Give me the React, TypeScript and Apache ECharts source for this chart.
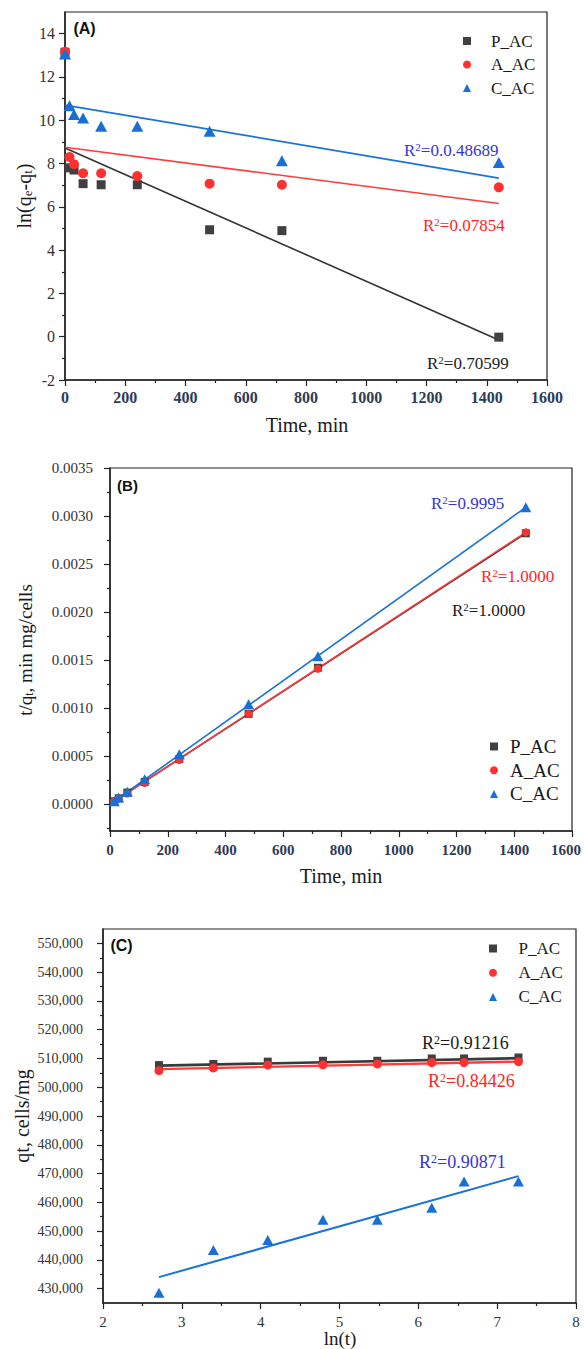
import React, { useEffect, useRef } from "react";
import * as echarts from "echarts";

// ---------- shared ----------
const seriesNames = ["P_AC", "A_AC", "C_AC"];

// ---------- Panel A : ln(qe-qt) vs time ----------
const timeA = [0, 15, 30, 60, 120, 240, 480, 720, 1440];
const lnP = [13.14, 7.8, 7.7, 7.07, 7.02, 7.02, 4.94, 4.9, -0.02];
const lnA = [13.16, 8.3, 7.97, 7.55, 7.55, 7.42, 7.07, 7.02, 6.9];
const lnC = [13.06, 10.67, 10.26, 10.1, 9.72, 9.72, 9.49, 8.13, 8.05];
const fitTimeA = [0, 1440];
const fitLnP = [8.72, -0.15];
const fitLnA = [8.75, 6.15];
const fitLnC = [10.7, 7.33];
const r2A = ["0.70599", "0.07854", "0.0.48689"];
const xMajorA = [0, 200, 400, 600, 800, 1000, 1200, 1400, 1600];
const xMinorA = [100, 300, 500, 700, 900, 1100, 1300, 1500];
const yMajorA = [-2, 0, 2, 4, 6, 8, 10, 12, 14];
const yMinorA = [-1, 1, 3, 5, 7, 9, 11, 13];

// ---------- Panel B : t/qt vs time ----------
const timeB = [15, 30, 60, 120, 240, 480, 720, 1440];
const tqP = [0.00003, 0.00006, 0.00012, 0.00023, 0.00047, 0.00094, 0.00142, 0.00282];
const tqA = [0.00003, 0.00006, 0.00011, 0.00022, 0.00046, 0.00094, 0.00141, 0.00283];
const tqC = [0.00003, 0.00007, 0.00013, 0.00026, 0.00052, 0.00104, 0.00154, 0.00309];
const fitTimeB = [15, 1440];
const fitTqP = [0.00003, 0.00282];
const fitTqA = [0.00003, 0.00283];
const fitTqC = [0.00003, 0.00309];
const r2B = ["1.0000", "1.0000", "0.9995"];
const xMajorB = [0, 200, 400, 600, 800, 1000, 1200, 1400, 1600];
const xMinorB = [100, 300, 500, 700, 900, 1100, 1300, 1500];
const yMajorB = [0, 0.0005, 0.001, 0.0015, 0.002, 0.0025, 0.003, 0.0035];
const yMinorB = [-0.00025, 0.00025, 0.00075, 0.00125, 0.00175, 0.00225, 0.00275, 0.00325];

// ---------- Panel C : qt vs ln(t) ----------
const lnT = [2.71, 3.4, 4.09, 4.79, 5.48, 6.17, 6.58, 7.27];
const qtP = [507700, 508100, 508900, 509200, 509200, 510000, 510000, 510350];
const qtA = [505750, 506700, 507700, 507800, 508100, 508600, 508600, 508900];
const qtC = [428600, 443400, 446900, 453900, 453900, 458100, 467200, 467200];
const fitLnT = [2.71, 7.27];
const fitQtP = [507500, 510100];
const fitQtA = [506300, 508900];
const fitQtC = [434000, 469100];
const r2C = ["0.91216", "0.84426", "0.90871"];
const xMajorC = [2, 3, 4, 5, 6, 7, 8];
const xMinorC = [2.5, 3.5, 4.5, 5.5, 6.5, 7.5];
const yMajorC = [430000, 440000, 450000, 460000, 470000, 480000, 490000, 500000, 510000, 520000, 530000, 540000, 550000];
const yMinorC = [435000, 445000, 455000, 465000, 475000, 485000, 495000, 505000, 515000, 525000, 535000, 545000];

// ---------- styling ----------
const SERIF = "'Liberation Serif', 'Times New Roman', serif";
const SANS = "'Liberation Sans', Arial, sans-serif";
const AX = "#222222";
const COL = { P: "#404040", A: "#ff3030", C: "#1a6fd6" };
const LINE = { P: "#333333", A: "#ff3b3b", C: "#1a73d9" };
const TXT = { P: "#1a1a1a", A: "#ff2424", C: "#3434d8" };

const zip = (xs: number[], ys: number[]) => xs.map((x, i) => [x, ys[i]]);

function mainAxis(gridIndex: number, pos: string, min: number, max: number, majors: number[], label: any) {
  return {
    type: "value",
    gridIndex,
    position: pos,
    min,
    max,
    axisLine: { show: true, onZero: false, lineStyle: { color: AX, width: 1.5 } },
    axisTick: { show: true, inside: false, length: 6, customValues: majors, lineStyle: { color: AX, width: 1.2 } },
    axisLabel: { show: true, customValues: majors, ...label },
    splitLine: { show: false },
    minorTick: { show: false },
    minorSplitLine: { show: false },
  };
}
function minorAxis(gridIndex: number, pos: string, min: number, max: number, minors: number[]) {
  return {
    type: "value",
    gridIndex,
    position: pos,
    min,
    max,
    axisLine: { show: false, onZero: false },
    axisTick: { show: true, inside: false, length: 3, customValues: minors, lineStyle: { color: AX, width: 1.2 } },
    axisLabel: { show: false },
    splitLine: { show: false },
  };
}

function scatter(name: string, xi: number, yi: number, xs: number[], ys: number[], symbol: string, size: any, color: string) {
  return {
    type: "scatter",
    name,
    xAxisIndex: xi,
    yAxisIndex: yi,
    data: zip(xs, ys),
    symbol,
    symbolSize: size,
    clip: false,
    itemStyle: { color, opacity: 1 },
    z: 4,
  };
}
function fitLine(name: string, xi: number, yi: number, xs: number[], ys: number[], color: string, width: number) {
  return {
    type: "line",
    name,
    xAxisIndex: xi,
    yAxisIndex: yi,
    data: zip(xs, ys),
    showSymbol: false,
    symbol: "none",
    clip: false,
    lineStyle: { color, width },
    z: 2,
  };
}
function r2Text(left: number, cy: number, value: string, color: string, size: number) {
  return {
    type: "text",
    x: left,
    y: cy,
    z: 10,
    style: {
      text: `R{sup|2}=${value}`,
      fill: color,
      fontFamily: SERIF,
      fontSize: size,
      align: "left",
      verticalAlign: "middle",
      rich: { sup: { fontSize: Math.round(size * 0.66), fill: color, fontFamily: SERIF, verticalAlign: "top", padding: [0, 0, 4, 0] } },
    },
  };
}
function plainText(cx: number, cy: number, text: string, size: number, opts: any = {}) {
  return {
    type: "text",
    x: cx,
    y: cy,
    z: 10,
    rotation: opts.rotation || 0,
    style: {
      text,
      fill: opts.fill || "#1a1a1a",
      fontFamily: opts.fontFamily || SERIF,
      fontWeight: opts.fontWeight || "normal",
      fontSize: size,
      align: "center",
      verticalAlign: "middle",
      rich: {
        sub: { fontSize: Math.round(size * 0.65), fill: opts.fill || "#1a1a1a", fontFamily: SERIF, verticalAlign: "bottom" },
      },
    },
  };
}
function legend(left: number, top: number, fontSize: number, gap: number, pad: number) {
  return {
    show: true,
    orient: "vertical",
    left,
    top,
    itemWidth: 8,
    itemHeight: 8,
    itemGap: gap,
    selectedMode: false,
    padding: 0,
    data: [
      { name: seriesNames[0], icon: "rect" },
      { name: seriesNames[1], icon: "circle" },
      { name: seriesNames[2], icon: "triangle" },
    ],
    textStyle: { fontFamily: SERIF, fontSize, color: "#1a1a1a", lineHeight: fontSize, padding: [0, 0, 0, pad] },
  };
}

const gridBase = { show: true, borderColor: AX, borderWidth: 1.2, backgroundColor: "transparent", containLabel: false, outerBoundsMode: "none" };

const boldX = { fontFamily: SERIF, fontWeight: "bold", fontSize: 16, color: "#2e3b55", margin: 9 };

function buildOption() {
  return {
    animation: false,
    backgroundColor: "#ffffff",
    grid: [
      { ...gridBase, left: 65, top: 12, width: 482, height: 368 },
      { ...gridBase, left: 110, top: 468, width: 462, height: 363 },
      { ...gridBase, left: 103, top: 929, width: 473, height: 374 },
    ],
    xAxis: [
      mainAxis(0, "bottom", 0, 1600, xMajorA, { ...boldX, formatter: (v: number) => String(v) }),
      mainAxis(1, "bottom", 0, 1600, xMajorB, {
        ...boldX,
        fontSize: 15,
        margin: 11,
        formatter: (v: number) => (v === 1600 ? `{edge|${v}}` : String(v)),
        rich: { edge: { fontFamily: SERIF, fontWeight: "bold", fontSize: 15, color: "#2e3b55", padding: [0, 12, 0, 0] } },
      }),
      mainAxis(2, "bottom", 2, 8, xMajorC, { fontFamily: SERIF, fontSize: 15, color: "#333", margin: 11, formatter: (v: number) => String(v) }),
      minorAxis(0, "bottom", 0, 1600, xMinorA),
      minorAxis(1, "bottom", 0, 1600, xMinorB),
      minorAxis(2, "bottom", 2, 8, xMinorC),
    ],
    yAxis: [
      mainAxis(0, "left", -2, 15, yMajorA, { fontFamily: SERIF, fontSize: 16, color: "#333", margin: 10, formatter: (v: number) => String(v) }),
      mainAxis(1, "left", -0.00028, 0.0035, yMajorB, { fontFamily: SERIF, fontSize: 15, color: "#333", margin: 17, formatter: (v: number) => v.toFixed(4) }),
      mainAxis(2, "left", 425000, 555000, yMajorC, { fontFamily: SERIF, fontSize: 14, color: "#333", margin: 20, formatter: (v: number) => v.toLocaleString("en-US") }),
      minorAxis(0, "left", -2, 15, yMinorA),
      minorAxis(1, "left", -0.00028, 0.0035, yMinorB),
      minorAxis(2, "left", 425000, 555000, yMinorC),
    ],
    legend: [legend(463, 32.5, 17, 6.5, 15), legend(490, 737, 19, 4.7, 7), legend(489, 940, 17, 7.2, 16.5)],
    series: [
      // Panel A
      scatter("P_AC", 0, 0, timeA, lnP, "rect", 9, COL.P),
      scatter("A_AC", 0, 0, timeA, lnA, "circle", 10, COL.A),
      scatter("C_AC", 0, 0, timeA, lnC, "triangle", [12, 11], COL.C),
      fitLine("P_AC fit A", 0, 0, fitTimeA, fitLnP, LINE.P, 1.6),
      fitLine("A_AC fit A", 0, 0, fitTimeA, fitLnA, LINE.A, 1.6),
      fitLine("C_AC fit A", 0, 0, fitTimeA, fitLnC, LINE.C, 1.8),
      // Panel B
      scatter("P_AC", 1, 1, timeB, tqP, "rect", 8, COL.P),
      scatter("A_AC", 1, 1, timeB, tqA, "circle", 8, COL.A),
      scatter("C_AC", 1, 1, timeB, tqC, "triangle", [11, 10], COL.C),
      fitLine("P_AC fit B", 1, 1, fitTimeB, fitTqP, LINE.P, 1.6),
      fitLine("A_AC fit B", 1, 1, fitTimeB, fitTqA, LINE.A, 1.6),
      fitLine("C_AC fit B", 1, 1, fitTimeB, fitTqC, LINE.C, 1.6),
      // Panel C
      scatter("P_AC", 2, 2, lnT, qtP, "rect", 8, COL.P),
      scatter("A_AC", 2, 2, lnT, qtA, "circle", 9, COL.A),
      scatter("C_AC", 2, 2, lnT, qtC, "triangle", [11, 10], COL.C),
      fitLine("P_AC fit C", 2, 2, fitLnT, fitQtP, "#3a3a3a", 2.6),
      fitLine("A_AC fit C", 2, 2, fitLnT, fitQtA, LINE.A, 2.4),
      fitLine("C_AC fit C", 2, 2, fitLnT, fitQtC, LINE.C, 2),
    ],
    graphic: [
      // panel tags
      plainText(84.5, 28.5, "(A)", 16, { fontFamily: SANS, fontWeight: "bold", fill: "#111" }),
      plainText(127.5, 485, "(B)", 15, { fontFamily: SANS, fontWeight: "bold", fill: "#111" }),
      plainText(121.5, 945, "(C)", 16, { fontFamily: SANS, fontWeight: "bold", fill: "#111" }),
      // axis titles
      plainText(307, 425, "Time, min", 20),
      plainText(341, 876, "Time, min", 20),
      plainText(340, 1338, "ln(t)", 19),
      plainText(24, 196, "ln(q{sub|e}-q{sub|t})", 20, { rotation: Math.PI / 2 }),
      plainText(25, 650, "t/q{sub|t}, min mg/cells", 19, { rotation: Math.PI / 2 }),
      plainText(22, 1116, "qt, cells/mg", 20, { rotation: Math.PI / 2 }),
      // R² labels
      r2Text(427, 363, r2A[0], TXT.P, 17),
      r2Text(423, 225, r2A[1], TXT.A, 17),
      r2Text(404, 150, r2A[2], TXT.C, 17),
      r2Text(452, 610, r2B[0], TXT.P, 17),
      r2Text(481, 576, r2B[1], TXT.A, 17),
      r2Text(431, 503, r2B[2], TXT.C, 17),
      r2Text(422, 1043, r2C[0], TXT.P, 18),
      r2Text(428, 1081, r2C[1], TXT.A, 18),
      r2Text(419, 1162, r2C[2], TXT.C, 18),
    ],
  };
}

export default function App() {
  const ref = useRef<HTMLDivElement>(null);
  useEffect(() => {
    if (!ref.current) return;
    const chart = echarts.init(ref.current, null, { renderer: "svg" });
    chart.setOption(buildOption() as any);
    return () => chart.dispose();
  }, []);
  return (
    <div
      ref={ref}
      style={{ position: "absolute", left: 0, top: 0, width: 584, height: 1349, background: "#ffffff" }}
    />
  );
}
